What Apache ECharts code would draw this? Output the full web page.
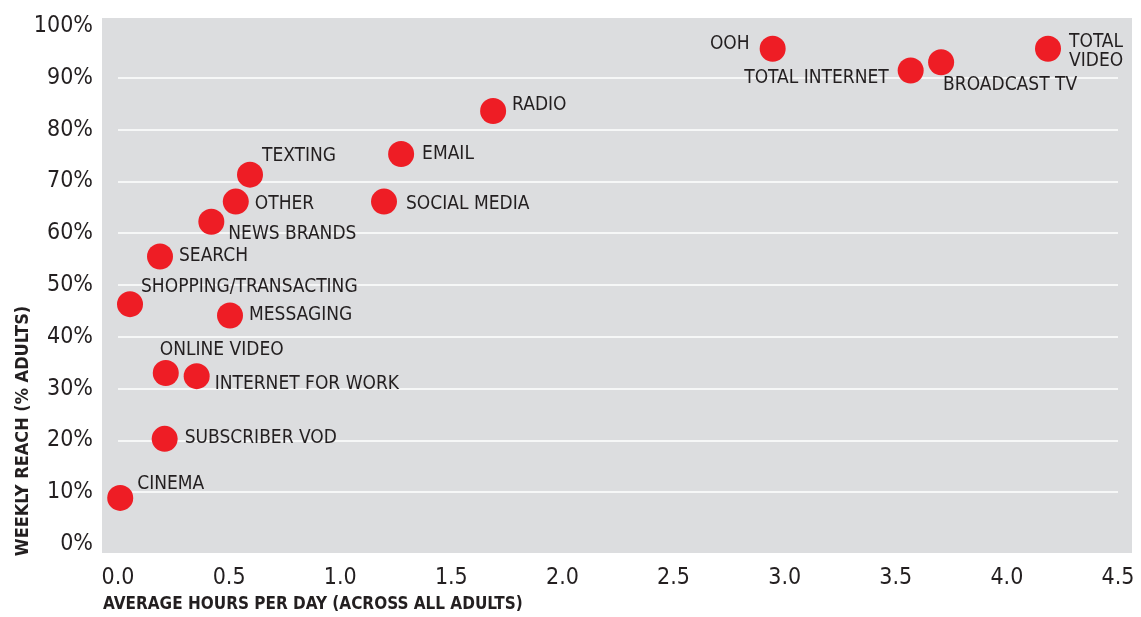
<!DOCTYPE html>
<html>
<head>
<meta charset="utf-8">
<script src="https://cdn.jsdelivr.net/npm/echarts@6/dist/echarts.min.js"></script>
<style>
  html, body { margin: 0; padding: 0; background: #fff; }
  #main { width: 1141px; height: 617px; }
</style>
</head>
<body>
<div id="main"></div>
<script>
// media activities
const activities = ['CINEMA', 'SUBSCRIBER VOD', 'ONLINE VIDEO', 'INTERNET FOR WORK', 'MESSAGING',
  'SHOPPING/TRANSACTING', 'SEARCH', 'NEWS BRANDS', 'OTHER', 'TEXTING', 'SOCIAL MEDIA', 'EMAIL',
  'RADIO', 'OOH', 'TOTAL INTERNET', 'BROADCAST TV', 'TOTAL VIDEO']
// average hours per day
const hoursPerDay = [0.01, 0.21, 0.215, 0.354, 0.504, 0.054, 0.189, 0.42, 0.53, 0.594, 1.197, 1.274,
  1.688, 2.946, 3.567, 3.704, 4.185]
// weekly reach, % adults
const weeklyReach = [8.9, 20.3, 33.0, 32.4, 44.1, 46.3, 55.5, 62.2, 66.1, 71.3, 66.1, 75.3,
  83.6, 95.6, 91.4, 93.0, 95.6]

// where each label sits: [align, dx, dy] from the dot centre
const labelPlace = {
  'CINEMA': ['left', 17, -14],
  'SUBSCRIBER VOD': ['left', 20, -1],
  'ONLINE VIDEO': ['left', -6, -23],
  'INTERNET FOR WORK': ['left', 18, 8],
  'MESSAGING': ['left', 19, 0],
  'SHOPPING/TRANSACTING': ['left', 11, -17],
  'SEARCH': ['left', 19, 0],
  'NEWS BRANDS': ['left', 17, 12],
  'OTHER': ['left', 19, 2],
  'TEXTING': ['left', 12, -19],
  'SOCIAL MEDIA': ['left', 22, 2],
  'EMAIL': ['left', 21, 0],
  'RADIO': ['left', 19, -6],
  'OOH': ['right', -23, -5],
  'TOTAL INTERNET': ['right', -22, 8],
  'BROADCAST TV': ['left', 2, 23],
  'TOTAL VIDEO': ['left', 21, 3]
}

const FONT = '"DejaVu Sans Condensed", "DejaVu Sans", sans-serif'
const INK = '#231f20'

const chart = echarts.init(document.getElementById('main'))

const points = activities.map((name, i) => {
  const p = labelPlace[name]
  return {
    name: name,
    value: [hoursPerDay[i], weeklyReach[i]],
    label: {
      show: true,
      position: 'inside',
      align: p[0],
      verticalAlign: 'middle',
      offset: [p[1], p[2]],
      formatter: name === 'TOTAL VIDEO' ? 'TOTAL\nVIDEO' : name
    }
  }
})

chart.setOption({
  animation: false,
  grid: {
    left: 118,
    right: 23,
    top: 26,
    bottom: 73
  },
  graphic: [
    {
      type: 'rect',
      z: -10,
      silent: true,
      shape: { x: 102, y: 18, width: 1030, height: 535 },
      style: { fill: '#dcdddf' }
    },
    {
      type: 'text',
      left: 103,
      top: 596,
      style: {
        text: 'AVERAGE HOURS PER DAY (ACROSS ALL ADULTS)',
        font: 'bold 17px ' + FONT,
        fill: INK
      }
    },
    {
      type: 'text',
      x: 23,
      y: 431,
      rotation: Math.PI / 2,
      style: {
        text: 'WEEKLY REACH (% ADULTS)',
        font: 'bold 18px ' + FONT,
        fill: INK,
        align: 'center',
        verticalAlign: 'middle'
      }
    }
  ],
  xAxis: {
    type: 'value',
    min: 0,
    max: 4.5,
    interval: 0.5,
    axisLine: { show: false },
    axisTick: { show: false },
    splitLine: { show: false },
    axisLabel: {
      margin: 23,
      color: INK,
      fontFamily: FONT,
      fontSize: 23,
      formatter: v => v.toFixed(1)
    }
  },
  yAxis: {
    type: 'value',
    min: 0,
    max: 100,
    interval: 10,
    axisLine: { show: false },
    axisTick: { show: false },
    splitLine: {
      showMinLine: false,
      showMaxLine: false,
      lineStyle: { color: '#ffffff', width: 1.5 }
    },
    axisLabel: {
      margin: 25,
      color: INK,
      fontFamily: FONT,
      fontSize: 23,
      formatter: v => v + '%'
    }
  },
  series: [{
    type: 'scatter',
    symbolSize: 26,
    itemStyle: { color: '#ee1d25', opacity: 1 },
    label: {
      color: INK,
      fontFamily: FONT,
      fontSize: 19,
      lineHeight: 19
    },
    data: points
  }]
})
</script>
</body>
</html>
